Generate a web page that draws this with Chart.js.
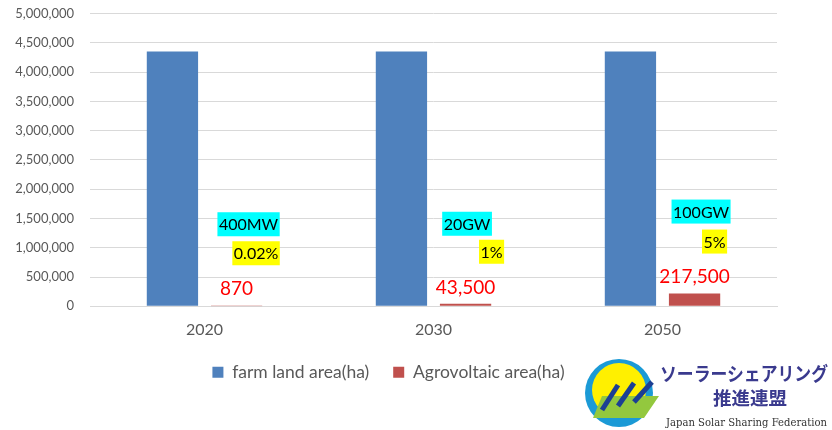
<!DOCTYPE html>
<html>
<head>
<meta charset="utf-8">
<script src="https://cdn.jsdelivr.net/npm/chart.js@4.4.1/dist/chart.umd.min.js"></script>
<style>
  html, body { margin: 0; padding: 0; background: #ffffff; }
  #wrap { position: relative; width: 832px; height: 430px; overflow: hidden; }
  #chart { position: absolute; left: 0; top: 0; }
  #logo { position: absolute; left: 580px; top: 350px; }
</style>
</head>
<body>
<div id="wrap">
  <canvas id="chart" width="832" height="430"></canvas>
  <svg id="logo" width="252" height="80" viewBox="0 0 252 80">
    <circle cx="39" cy="43" r="34" fill="#1b9ad6"/>
    <circle cx="39" cy="40" r="27" fill="#fff000"/>
    <polygon points="22,46 79,46 64,68 13,68" fill="#93c83e"/>
    <g stroke="#1c3f94" stroke-width="5" stroke-linecap="butt">
      <line x1="22" y1="60" x2="38" y2="35"/>
      <line x1="38" y1="56" x2="54" y2="33"/>
      <line x1="54" y1="52" x2="72" y2="32"/>
    </g>
    <text x="80" y="22" font-family="Noto Sans CJK JP" font-weight="bold" font-size="19" fill="#3a3a8e" dominant-baseline="central" textLength="168" lengthAdjust="spacingAndGlyphs">ソーラーシェアリング</text>
    <text x="133" y="47" font-family="Noto Sans CJK JP" font-weight="bold" font-size="18.5" fill="#3a3a8e" dominant-baseline="central" textLength="74" lengthAdjust="spacingAndGlyphs">推進連盟</text>
    <text x="86" y="72" font-family="DejaVu Serif" font-size="11" fill="#333333" dominant-baseline="central" textLength="161" lengthAdjust="spacingAndGlyphs">Japan Solar Sharing Federation</text>
  </svg>
</div>
<script>
// ---- data ----
const categories = ['2020', '2030', '2050'];
const farmLandArea = [4350000, 4350000, 4350000];
const agrovoltaicArea = [870, 43500, 217500];
const capacityLabels = ['400MW', '20GW', '100GW'];
const shareLabels = ['0.02%', '1%', '5%'];
const seriesNames = ['farm land area(ha)', 'Agrovoltaic area(ha)'];
const yMin = 0, yMax = 5000000, yStep = 500000;

const FONT = 'Lato, "Liberation Sans", sans-serif';

const annotationPlugin = {
  id: 'annot',
  afterDatasetsDraw(chart, args, opts) {
    const ctx = chart.ctx;
    const meta = chart.getDatasetMeta(1);
    meta.data.forEach((bar, i) => {
      const x = bar.x, top = bar.y;
      ctx.save();
      ctx.font = '19px ' + FONT;
      ctx.fillStyle = '#ff0000';
      ctx.textAlign = 'center';
      ctx.textBaseline = 'middle';
      ctx.fillText(agrovoltaicArea[i].toLocaleString('en-US'), x, top + opts.valueDy[i]);
      const drawBox = (txt, cx, cy, bg) => {
        ctx.font = '16px ' + FONT;
        const w = ctx.measureText(txt).width + 3;
        const h = 24;
        ctx.fillStyle = bg;
        ctx.fillRect(cx - w / 2, cy - h / 2, w, h);
        ctx.fillStyle = '#000000';
        ctx.textAlign = 'center';
        ctx.textBaseline = 'middle';
        ctx.fillText(txt, cx, cy + 1);
      };
      drawBox(capacityLabels[i], x + opts.capDx[i], top + opts.capDy[i], '#00ffff');
      drawBox(shareLabels[i], x + opts.shareDx[i], top + opts.shareDy[i], '#ffff00');
      ctx.restore();
    });
  }
};

new Chart(document.getElementById('chart'), {
  type: 'bar',
  data: {
    labels: categories,
    datasets: [
      { label: seriesNames[0], data: farmLandArea, backgroundColor: '#4f81bd', borderWidth: 0 },
      { label: seriesNames[1], data: agrovoltaicArea, backgroundColor: '#c0504d', borderWidth: 0 }
    ]
  },
  options: {
    responsive: false,
    animation: false,
    devicePixelRatio: 1,
    categoryPercentage: 0.56,
    barPercentage: 0.8,
    layout: { padding: { left: 0, right: 55, top: 13.5, bottom: 39 } },
    plugins: {
      legend: {
        position: 'bottom',
        labels: {
          boxWidth: 11, boxHeight: 11, padding: 24,
          color: '#595959',
          font: { family: FONT, size: 17.5 }
        }
      },
      tooltip: { enabled: false },
      annot: {
        capDx: [12, 1.5, 6.5],
        capDy: [-82, -80, -82],
        shareDx: [19.5, 26, 20],
        shareDy: [-53, -52, -52],
        valueDy: [-17, -16, -17]
      }
    },
    scales: {
      x: {
        afterFit(scale) { scale.height -= 14; },
        grid: { display: false, drawTicks: false },
        border: { display: true, color: '#d9d9d9', width: 1 },
        ticks: { color: '#595959', font: { family: FONT, size: 16 }, padding: 14 }
      },
      y: {
        min: yMin, max: yMax,
        afterFit(scale) { scale.width = 90; scale.paddingTop = 0; scale.paddingBottom = 0; },
        grid: { color: '#d9d9d9', drawTicks: false },
        border: { display: false },
        ticks: {
          stepSize: yStep,
          color: '#595959',
          font: { family: FONT, size: 13 },
          padding: 16,
          callback: v => Number(v).toLocaleString('en-US')
        }
      }
    }
  },
  plugins: [annotationPlugin]
});
</script>
</body>
</html>
